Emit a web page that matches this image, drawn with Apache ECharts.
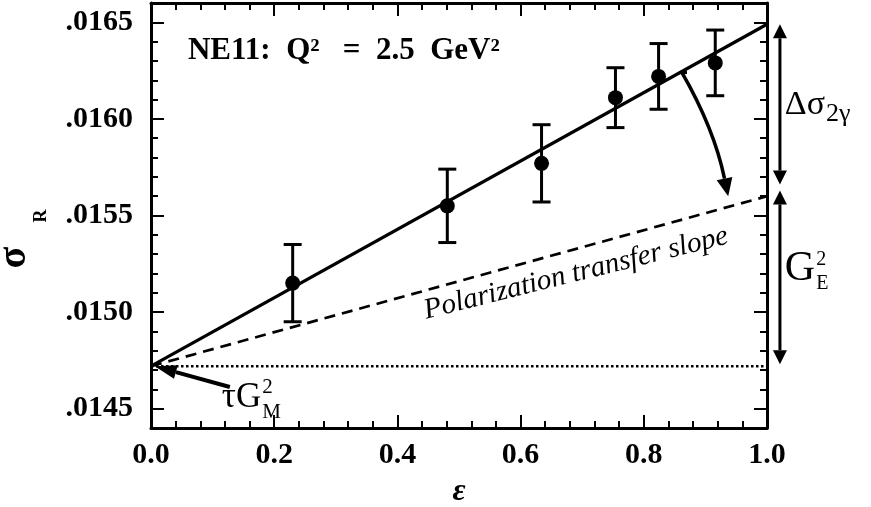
<!DOCTYPE html>
<html>
<head>
<meta charset="utf-8">
<script src="https://cdn.jsdelivr.net/npm/echarts@6/dist/echarts.min.js"></script>
<style>
  html, body { margin: 0; padding: 0; background: #fff; }
  #chart { width: 871px; height: 507px; }
</style>
</head>
<body>
<div id="chart"></div>
<script>
// Reduced cross section sigma_R versus epsilon, NE11 data at Q^2 = 2.5 GeV^2
const epsilon  = [0.230, 0.481, 0.634, 0.754, 0.824, 0.916];
const sigmaR   = [0.01515, 0.01555, 0.01577, 0.01611, 0.01622, 0.01629];
const sigmaErr = [0.00020, 0.00019, 0.00020, 0.000155, 0.00017, 0.00017];

// Straight lines in epsilon, all starting from tau*G_M^2 at epsilon = 0
const tauGM2 = 0.01472;   // intercept
const fitEnd = 0.01649;   // Rosenbluth fit at epsilon = 1
const polEnd = 0.01560;   // polarization transfer slope at epsilon = 1

// Axis ticks and their labels
const xTicks = [0.0, 0.2, 0.4, 0.6, 0.8, 1.0];
const xTickLabels = ['0.0', '0.2', '0.4', '0.6', '0.8', '1.0'];
const yTicks = [0.0145, 0.0150, 0.0155, 0.0160, 0.0165];
const yTickLabels = ['.0145', '.0150', '.0155', '.0160', '.0165'];

const BLACK = '#000';
const SERIF = '"Liberation Serif", "Times New Roman", serif';

const chart = echarts.init(document.getElementById('chart'), null, { renderer: 'canvas' });

const frameLine = { show: true, lineStyle: { color: BLACK, width: 3 } };
const majorTick = { show: true, inside: true, length: 13, lineStyle: { color: BLACK, width: 2 } };
const minorTickX = { show: true, splitNumber: 5, length: 7, lineStyle: { color: BLACK, width: 2 } };
const minorTickY = { show: true, inside: true, length: 7, lineStyle: { color: BLACK, width: 2 } };
const tickFont = { color: BLACK, fontFamily: SERIF, fontWeight: 'bold', fontSize: 30 };

function labelFor(ticks, labels, v) {
  for (let i = 0; i < ticks.length; i++) {
    if (Math.abs(ticks[i] - v) < 1e-9) return labels[i];
  }
  return '';
}

const xBase = { type: 'value', min: 0, max: 1, interval: 0.2, splitLine: { show: false } };
const yBase = { type: 'value', min: 0.0144, max: 0.0166, splitLine: { show: false }, scale: true };

const option = {
  animation: false,
  backgroundColor: '#fff',
  grid: { left: 151, right: 104, top: 3, bottom: 79, containLabel: false, outerBoundsMode: 'none' },
  xAxis: [
    Object.assign({}, xBase, {
      position: 'bottom',
      axisLine: frameLine,
      axisTick: majorTick,
      minorTick: minorTickX,
      axisLabel: Object.assign({ margin: 12, formatter: v => labelFor(xTicks, xTickLabels, v) }, tickFont),
      name: 'ε',
      nameLocation: 'middle',
      nameGap: 48,
      nameTextStyle: { color: BLACK, fontFamily: SERIF, fontWeight: 'bold', fontStyle: 'italic', fontSize: 32 }
    }),
    Object.assign({}, xBase, {
      position: 'top',
      axisLine: frameLine,
      axisTick: majorTick,
      minorTick: minorTickX,
      axisLabel: { show: false }
    })
  ],
  yAxis: [
    // left: minor ticks every 0.0001 and the frame line
    Object.assign({}, yBase, {
      position: 'left', interval: 0.0001,
      axisLine: frameLine, axisTick: minorTickY, axisLabel: { show: false }
    }),
    // left: major ticks and labels
    Object.assign({}, yBase, {
      position: 'left', offset: 0,
      axisLine: { show: false },
      axisTick: Object.assign({ customValues: yTicks }, majorTick),
      axisLabel: Object.assign({ customValues: yTicks, margin: 18,
        formatter: v => labelFor(yTicks, yTickLabels, v) }, tickFont)
    }),
    // right: minor ticks and the frame line
    Object.assign({}, yBase, {
      position: 'right', interval: 0.0001,
      axisLine: frameLine, axisTick: minorTickY, axisLabel: { show: false }
    }),
    // right: major ticks
    Object.assign({}, yBase, {
      position: 'right', offset: 0,
      axisLine: { show: false },
      axisTick: Object.assign({ customValues: yTicks }, majorTick),
      axisLabel: { show: false }
    })
  ],
  series: [
    {
      name: 'Rosenbluth fit', type: 'line', symbol: 'none', silent: true,
      data: [[0, tauGM2], [1, fitEnd]],
      lineStyle: { color: BLACK, width: 3.2 }, z: 3
    },
    {
      name: 'Polarization transfer slope', type: 'line', symbol: 'none', silent: true,
      data: [[0, tauGM2], [1, polEnd]],
      lineStyle: { color: BLACK, width: 2.7, type: [11, 7] }, z: 2
    },
    {
      name: 'tau GM2', type: 'line', symbol: 'none', silent: true,
      data: [[0, tauGM2], [1, tauGM2]],
      lineStyle: { color: BLACK, width: 2.5, type: [2.5, 2.5] }, z: 2
    },
    {
      name: 'errors', type: 'custom', silent: true, z: 4,
      data: epsilon.map((e, i) => [e, sigmaR[i] - sigmaErr[i], sigmaR[i] + sigmaErr[i]]),
      encode: { x: 0, y: [1, 2] },
      renderItem: function (params, api) {
        const lo = api.coord([api.value(0), api.value(1)]);
        const hi = api.coord([api.value(0), api.value(2)]);
        const w = 9;
        const st = { stroke: BLACK, lineWidth: 3 };
        return {
          type: 'group',
          children: [
            { type: 'line', shape: { x1: lo[0], y1: lo[1], x2: hi[0], y2: hi[1] }, style: st },
            { type: 'line', shape: { x1: lo[0] - w, y1: lo[1], x2: lo[0] + w, y2: lo[1] }, style: st },
            { type: 'line', shape: { x1: hi[0] - w, y1: hi[1], x2: hi[0] + w, y2: hi[1] }, style: st }
          ]
        };
      }
    },
    {
      name: 'NE11', type: 'scatter', silent: true, z: 5,
      data: epsilon.map((e, i) => [e, sigmaR[i]]),
      symbol: 'circle', symbolSize: 15,
      itemStyle: { color: BLACK, opacity: 1 }
    }
  ]
};

chart.setOption(option);

// ---- annotations -------------------------------------------------------
const measureCtx = document.createElement('canvas').getContext('2d');
function textWidth(t, font) { measureCtx.font = font; return measureCtx.measureText(t).width; }
function px(x, y) { return chart.convertToPixel({ xAxisIndex: 0, yAxisIndex: 0 }, [x, y]); }

// text element whose alphabetic baseline sits at (x, baseline)
function textAt(t, x, baseline, size, opts) {
  opts = opts || {};
  const font = (opts.style || '') + ' ' + (opts.weight || 'normal') + ' ' + size + 'px ' + SERIF;
  return {
    type: 'text', x: x, y: baseline - 0.3375 * size, silent: true,
    style: { text: t, font: font, fill: BLACK, align: opts.align || 'left', verticalAlign: 'middle' }
  };
}

// a run of pieces laid out left to right; stacked pieces share the previous x
function formula(x0, baseline, parts) {
  const out = [];
  let x = x0, lastX = x0;
  parts.forEach(p => {
    const font = (p.weight || 'normal') + ' ' + p.size + 'px ' + SERIF;
    const w = textWidth(p.t, font);
    const px0 = p.stack ? lastX : x + (p.gap || 0);
    out.push(textAt(p.t, px0, baseline + (p.dy || 0), p.size, { weight: p.weight }));
    if (!p.stack) { lastX = px0; x = px0 + w; }
    else { x = Math.max(x, px0 + w); }
  });
  return out;
}

function arrowHead(tip, from, len, half) {
  const dx = tip[0] - from[0], dy = tip[1] - from[1];
  const L = Math.hypot(dx, dy), ux = dx / L, uy = dy / L;
  const base = [tip[0] - ux * len, tip[1] - uy * len];
  return {
    base: base,
    el: {
      type: 'polygon', silent: true,
      shape: { points: [tip, [base[0] - uy * half, base[1] + ux * half], [base[0] + uy * half, base[1] - ux * half]] },
      style: { fill: BLACK }
    }
  };
}

function arrow(from, to, width, len, half) {
  const h = arrowHead(to, from, len, half);
  return [
    { type: 'line', silent: true, shape: { x1: from[0], y1: from[1], x2: h.base[0], y2: h.base[1] },
      style: { stroke: BLACK, lineWidth: width } },
    h.el
  ];
}

function doubleArrow(a, b, width, len, half) {
  const h1 = arrowHead(a, b, len, half), h2 = arrowHead(b, a, len, half);
  return [
    { type: 'line', silent: true, shape: { x1: h1.base[0], y1: h1.base[1], x2: h2.base[0], y2: h2.base[1] },
      style: { stroke: BLACK, lineWidth: width } },
    h1.el, h2.el
  ];
}

function buildGraphics() {
  const els = [];
  const x0 = px(0, 0.0144), top = px(0, 0.0166);

  // run label
  const ne = px(0.06, 0.01630);
  els.push(textAt('NE11:  Q²   =  2.5  GeV²', ne[0], ne[1], 31, { weight: 'bold' }));

  // y-axis title sigma_R, rotated to read upwards
  const midY = (top[1] + x0[1]) / 2;
  els.push({
    type: 'group', x: 28, y: midY + 53, rotation: Math.PI / 2, silent: true,
    children: [
      textAt('σ', 0, 0, 40, { weight: 'bold' }),
      textAt('R', 46, 19, 18, { weight: 'bold' })
    ]
  });

  // double arrows beyond epsilon = 1
  const xr = 1.021;
  els.push(...doubleArrow(px(xr, fitEnd), px(xr, 0.01566), 3, 14, 7));
  els.push(...doubleArrow(px(xr, 0.01563), px(xr, tauGM2 + 0.00001), 3, 14, 7));

  // Delta sigma_2gamma
  const d = px(1.029, 0.01601);
  els.push(...formula(d[0], d[1], [
    { t: 'Δσ', size: 34 },
    { t: '2γ', size: 26, dy: 6, gap: 1 }
  ]));

  // G_E^2
  const g = px(1.029, 0.015151);
  els.push(...formula(g[0], g[1], [
    { t: 'G', size: 42 },
    { t: '2', size: 20, dy: -16, gap: 1 },
    { t: 'E', size: 20, dy: 8, stack: true }
  ]));

  // tau G_M^2 with its arrow to the intercept
  els.push(...arrow(px(0.128, 0.014612), px(0.006, tauGM2), 4, 22, 7));
  const t = px(0.115, 0.014493);
  els.push(...formula(t[0], t[1], [
    { t: 'τG', size: 35 },
    { t: '2', size: 21, dy: -15, gap: 1 },
    { t: 'M', size: 21, dy: 10, stack: true }
  ]));

  // curved arrow from the fit down to the polarization transfer line
  const cs = px(0.862, 0.01624), ce = px(0.937, 0.01560);
  const cp = [(cs[0] + ce[0]) / 2 + 9, (cs[1] + ce[1]) / 2 - 6];
  const ch = arrowHead(ce, cp, 18, 8);
  els.push({
    type: 'bezierCurve', silent: true,
    shape: { x1: cs[0], y1: cs[1], x2: ch.base[0], y2: ch.base[1], cpx1: cp[0], cpy1: cp[1] },
    style: { stroke: BLACK, lineWidth: 3.5, fill: null }
  });
  els.push({ type: 'line', silent: true, shape: { x1: cs[0] - 3, y1: cs[1], x2: cs[0] + 5, y2: cs[1] },
    style: { stroke: BLACK, lineWidth: 3 } });
  els.push(ch.el);

  // slope label along the dashed line
  const pl = px(0.69, 0.01520);
  els.push({
    type: 'text', x: pl[0], y: pl[1], rotation: 14 * Math.PI / 180, silent: true,
    style: { text: 'Polarization transfer slope', font: 'italic 29px ' + SERIF,
             fill: BLACK, align: 'center', verticalAlign: 'middle' }
  });

  chart.setOption({ graphic: { elements: els } });
}

buildGraphics();
</script>
</body>
</html>
